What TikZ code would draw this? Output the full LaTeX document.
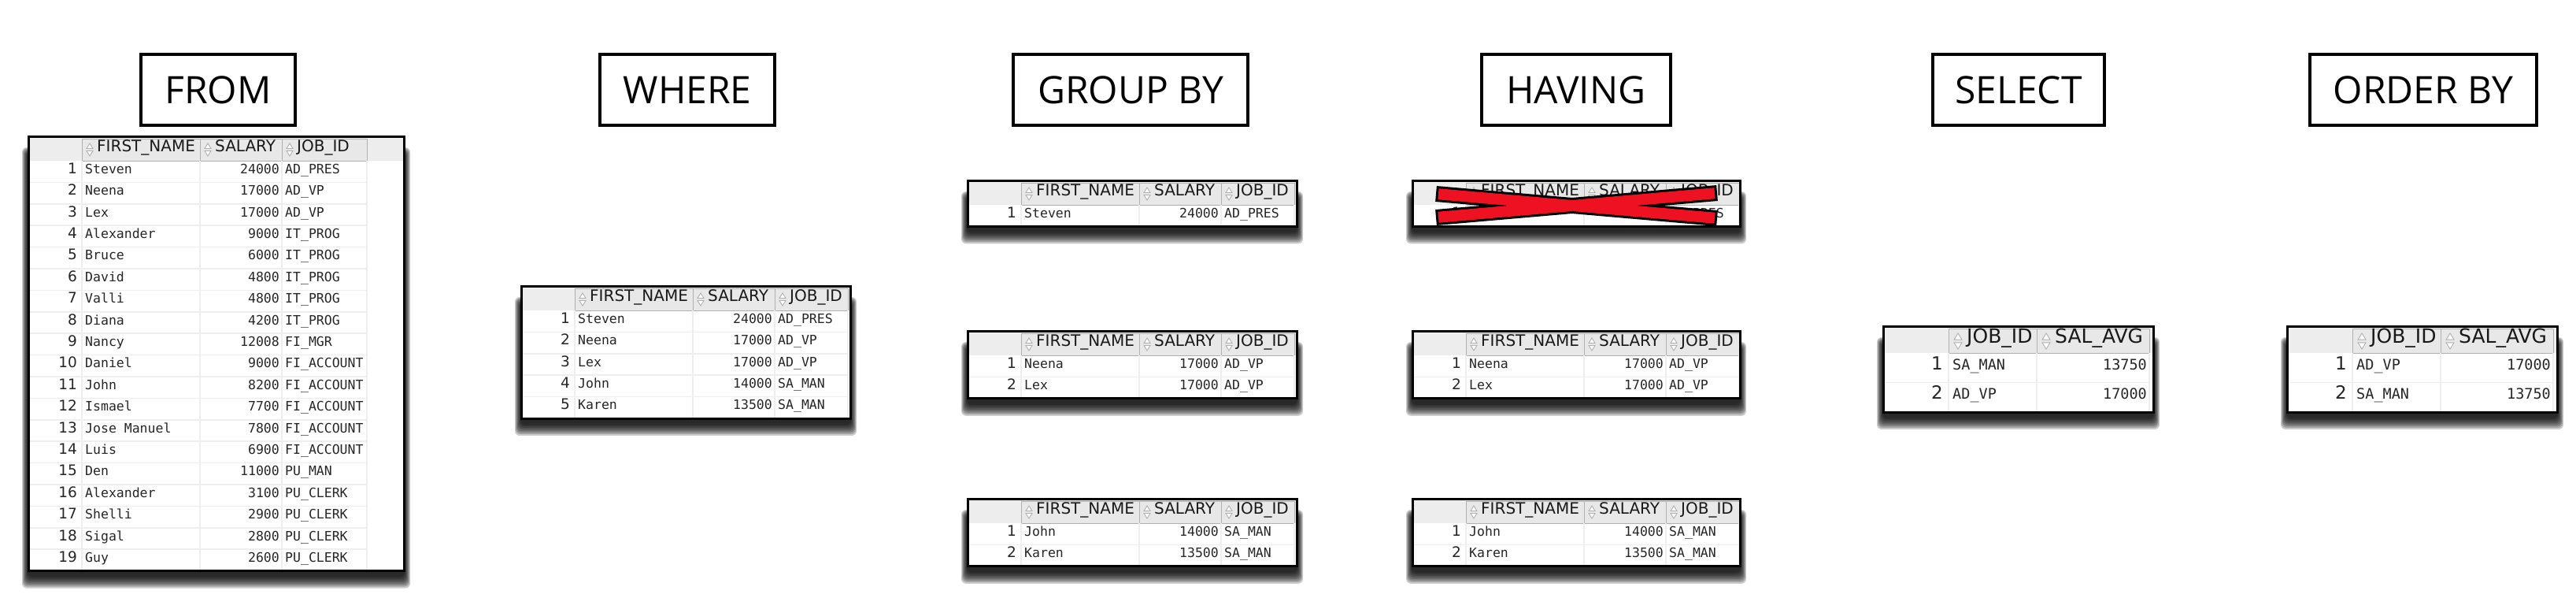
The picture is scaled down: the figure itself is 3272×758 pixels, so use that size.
\documentclass[tikz,border=0pt]{standalone}
\usepackage{fontspec}
\setmainfont{Open Sans}
\newfontfamily\tabsans{DejaVu Sans}
\newfontfamily\tabmono{DejaVu Sans Mono}
\usetikzlibrary{calc}
\definecolor{hdrbg}{HTML}{EDEDED}
\definecolor{hdrcell}{HTML}{E8E8E8}
\definecolor{hdrline}{HTML}{B0B0B0}
\definecolor{gridline}{HTML}{EEEEEE}
\definecolor{xred}{HTML}{EE1122}
\definecolor{iconc}{HTML}{B0B0B0}
\tikzset{
  titlebox/.style={draw=black, line width=3.5, fill=white, minimum height=90, inner sep=0,
    font=\fontsize{48}{58}\selectfont},
  numtxt/.style={anchor=mid east, inner sep=0, text=black!85},
  monotxt/.style={inner sep=0, text=black!85},
  hdrtxt/.style={anchor=mid west, inner sep=0, text=black!90},
  gridl/.style={gridline, line width=1.5},
  tabborder/.style={draw=black, line width=3},
}
% sort icon: x, y, scale
\newcommand{\sorticon}[3]{%
  \draw[iconc, line width=0.9, fill=white]
    (#1,#2-8*#3) -- (#1+4*#3,#2-1.5*#3) -- (#1-4*#3,#2-1.5*#3) -- cycle;
  \draw[iconc, line width=0.9, fill=white]
    (#1,#2+8*#3) -- (#1+4*#3,#2+1.5*#3) -- (#1-4*#3,#2+1.5*#3) -- cycle;
}
% shadow: left, top, right, bottom
\newcommand{\tabshadow}[4]{%
  \foreach \kk in {0,...,7} {
    \fill[black, opacity=0.2, rounded corners=6]
      (#1-8+\kk, #2+14+\kk) rectangle (#3+8-\kk, #4+22-2*\kk);
  }
}
% three column table: name, left, top, job width, extra width, rows
\newcommand{\threetab}[6]{%
  \pgfmathsetmacro\cA{#2}%
  \pgfmathsetmacro\cB{#2+68}%
  \pgfmathsetmacro\cC{#2+218}%
  \pgfmathsetmacro\cD{#2+322}%
  \pgfmathsetmacro\cE{#2+322+#4}%
  \pgfmathsetmacro\cF{#2+322+#4+#5}%
  \pgfmathsetmacro\tT{#3}%
  \pgfmathsetmacro\hB{#3+31}%
  \pgfmathsetmacro\hM{#3+17}%
  \foreach \rw [count=\ia] in {#6} {\xdef\nrows{\ia}}%
  \pgfmathsetmacro\tB{\hB+27.4*\nrows}%
  \tabshadow{\cA}{\tT}{\cF}{\tB}
  \fill[white] (\cA,\tT) rectangle (\cF,\tB);
  \fill[hdrbg] (\cA,\tT) rectangle (\cF,\hB);
  \foreach \ua/\va in {\cB/\cC,\cC/\cD,\cD/\cE} {
    \draw[hdrline, fill=hdrcell, line width=1] (\ua,\tT+3) rectangle (\va,\hB);
  }
  \sorticon{\cB+10}{\hM}{1}
  \sorticon{\cC+10}{\hM}{1}
  \sorticon{\cD+10}{\hM}{1}
  \node[hdrtxt, font=\tabsans\fontsize{20}{20}\selectfont] (#1h1) at (\cB+19,\hM) {FIRST\_NAME};
  \node[hdrtxt, font=\tabsans\fontsize{20}{20}\selectfont] (#1h2) at (\cC+19,\hM) {SALARY};
  \node[hdrtxt, font=\tabsans\fontsize{20}{20}\selectfont] (#1h3) at (\cD+19,\hM) {JOB\_ID};
  \foreach \ia in {1,...,\nrows} {
    \draw[gridl] (\cA, \hB+27.4*\ia) -- (\cE, \hB+27.4*\ia);
  }
  \foreach \xa in {\cB,\cC,\cD,\cE} {
    \draw[gridl] (\xa,\hB) -- (\xa,\tB);
  }
  \foreach \nn/\fn/\sal/\job [count=\ia] in {#6} {
    \pgfmathsetmacro\yc{\hB+27.4*(\ia-0.5)}
    \node[numtxt, font=\tabsans\fontsize{18.5}{18.5}\selectfont] (#1n\ia) at (\cB-6,\yc) {\nn};
    \node[monotxt, anchor=mid west, font=\tabmono\fontsize{16.5}{16.5}\selectfont] (#1f\ia) at (\cB+4,\yc) {\fn};
    \node[monotxt, anchor=mid east, font=\tabmono\fontsize{16.5}{16.5}\selectfont] (#1s\ia) at (\cD-3,\yc) {\sal};
    \node[monotxt, anchor=mid west, font=\tabmono\fontsize{16.5}{16.5}\selectfont] (#1j\ia) at (\cD+4,\yc) {\job};
  }
  \draw[tabborder] (\cA,\tT) rectangle (\cF,\tB);
}
% two column table: name, left, top, rows
\newcommand{\twotab}[4]{%
  \pgfmathsetmacro\cA{#2}%
  \pgfmathsetmacro\cB{#2+83}%
  \pgfmathsetmacro\cC{#2+195}%
  \pgfmathsetmacro\cD{#2+338}%
  \pgfmathsetmacro\cF{#2+343}%
  \pgfmathsetmacro\tT{#3}%
  \pgfmathsetmacro\hB{#3+34}%
  \pgfmathsetmacro\hM{#3+19}%
  \pgfmathsetmacro\tB{\hB+2*37.5}%
  \tabshadow{\cA}{\tT}{\cF}{\tB}
  \fill[white] (\cA,\tT) rectangle (\cF,\tB);
  \fill[hdrbg] (\cA,\tT) rectangle (\cF,\hB);
  \foreach \ua/\va in {\cB/\cC,\cC/\cD} {
    \draw[hdrline, fill=hdrcell, line width=1] (\ua,\tT+3) rectangle (\va,\hB);
  }
  \sorticon{\cB+12}{\hM}{1.25}
  \sorticon{\cC+12}{\hM}{1.25}
  \node[hdrtxt, font=\tabsans\fontsize{25}{25}\selectfont] (#1h1) at (\cB+23,\hM) {JOB\_ID};
  \node[hdrtxt, font=\tabsans\fontsize{25}{25}\selectfont] (#1h2) at (\cC+23,\hM) {SAL\_AVG};
  \foreach \ia in {1,2} {
    \draw[gridl] (\cA, \hB+37.5*\ia) -- (\cD, \hB+37.5*\ia);
  }
  \foreach \xa in {\cB,\cC,\cD} {
    \draw[gridl] (\xa,\hB) -- (\xa,\tB);
  }
  \foreach \nn/\job/\sal [count=\ia] in {#4} {
    \pgfmathsetmacro\yc{\hB+37.5*(\ia-0.5)}
    \node[numtxt, font=\tabsans\fontsize{23}{23}\selectfont] (#1n\ia) at (\cB-7,\yc) {\nn};
    \node[monotxt, anchor=mid west, font=\tabmono\fontsize{18.5}{18.5}\selectfont] (#1j\ia) at (\cB+5,\yc) {\job};
    \node[monotxt, anchor=mid east, font=\tabmono\fontsize{18.5}{18.5}\selectfont] (#1s\ia) at (\cD-3,\yc) {\sal};
  }
  \draw[tabborder] (\cA,\tT) rectangle (\cF,\tB);
}
\begin{document}
\begin{tikzpicture}[x=1pt, y=-1pt]
\fill[white] (0,0) rectangle (3272,758);
\useasboundingbox (0,0) rectangle (3272,758);
% titles
\node[titlebox, minimum width=196] (tfrom) at (277,114) {FROM};
\node[titlebox, minimum width=222] (twhere) at (873,114) {WHERE};
\node[titlebox, minimum width=298] (tgroup) at (1436,114) {GROUP BY};
\node[titlebox, minimum width=240] (thaving) at (2002,114) {HAVING};
\node[titlebox, minimum width=218] (tselect) at (2564,114) {SELECT};
\node[titlebox, minimum width=288] (torder) at (3078,114) {ORDER BY};
% FROM
\threetab{from}{36}{173}{108}{47}{
  1/Steven/24000/AD\_PRES, 2/Neena/17000/AD\_VP, 3/Lex/17000/AD\_VP,
  4/Alexander/9000/IT\_PROG, 5/Bruce/6000/IT\_PROG, 6/David/4800/IT\_PROG,
  7/Valli/4800/IT\_PROG, 8/Diana/4200/IT\_PROG, 9/Nancy/12008/FI\_MGR,
  10/Daniel/9000/FI\_ACCOUNT, 11/John/8200/FI\_ACCOUNT, 12/Ismael/7700/FI\_ACCOUNT,
  13/Jose Manuel/7800/FI\_ACCOUNT, 14/Luis/6900/FI\_ACCOUNT, 15/Den/11000/PU\_MAN,
  16/Alexander/3100/PU\_CLERK, 17/Shelli/2900/PU\_CLERK, 18/Sigal/2800/PU\_CLERK,
  19/Guy/2600/PU\_CLERK}
% WHERE
\threetab{where}{662}{363}{93}{3}{
  1/Steven/24000/AD\_PRES, 2/Neena/17000/AD\_VP, 3/Lex/17000/AD\_VP,
  4/John/14000/SA\_MAN, 5/Karen/13500/SA\_MAN}
% GROUP BY
\threetab{gba}{1229}{229}{93}{3}{1/Steven/24000/AD\_PRES}
\threetab{gbb}{1229}{420}{93}{3}{1/Neena/17000/AD\_VP, 2/Lex/17000/AD\_VP}
\threetab{gbc}{1229}{633}{93}{3}{1/John/14000/SA\_MAN, 2/Karen/13500/SA\_MAN}
% HAVING
\threetab{hva}{1794}{229}{93}{1}{1/Steven/24000/AD\_PRES}
\threetab{hvb}{1794}{420}{93}{1}{1/Neena/17000/AD\_VP, 2/Lex/17000/AD\_VP}
\threetab{hvc}{1794}{633}{93}{1}{1/John/14000/SA\_MAN, 2/Karen/13500/SA\_MAN}
% red cross
\coordinate (xa1) at (1824,246);
\coordinate (xa2) at (2181,277);
\coordinate (xb1) at (1824,276);
\coordinate (xb2) at (2181,245);
\draw[black, line width=20] (xa1) -- (xa2);
\draw[black, line width=20] (xb1) -- (xb2);
\draw[xred, line width=14] ($(xa1)!3pt!(xa2)$) -- ($(xa2)!3pt!(xa1)$);
\draw[xred, line width=14] ($(xb1)!3pt!(xb2)$) -- ($(xb2)!3pt!(xb1)$);
% SELECT
\twotab{sel}{2392}{414}{1/SA\_MAN/13750, 2/AD\_VP/17000}
% ORDER BY
\twotab{ord}{2905}{414}{1/AD\_VP/17000, 2/SA\_MAN/13750}
\end{tikzpicture}
\end{document}
